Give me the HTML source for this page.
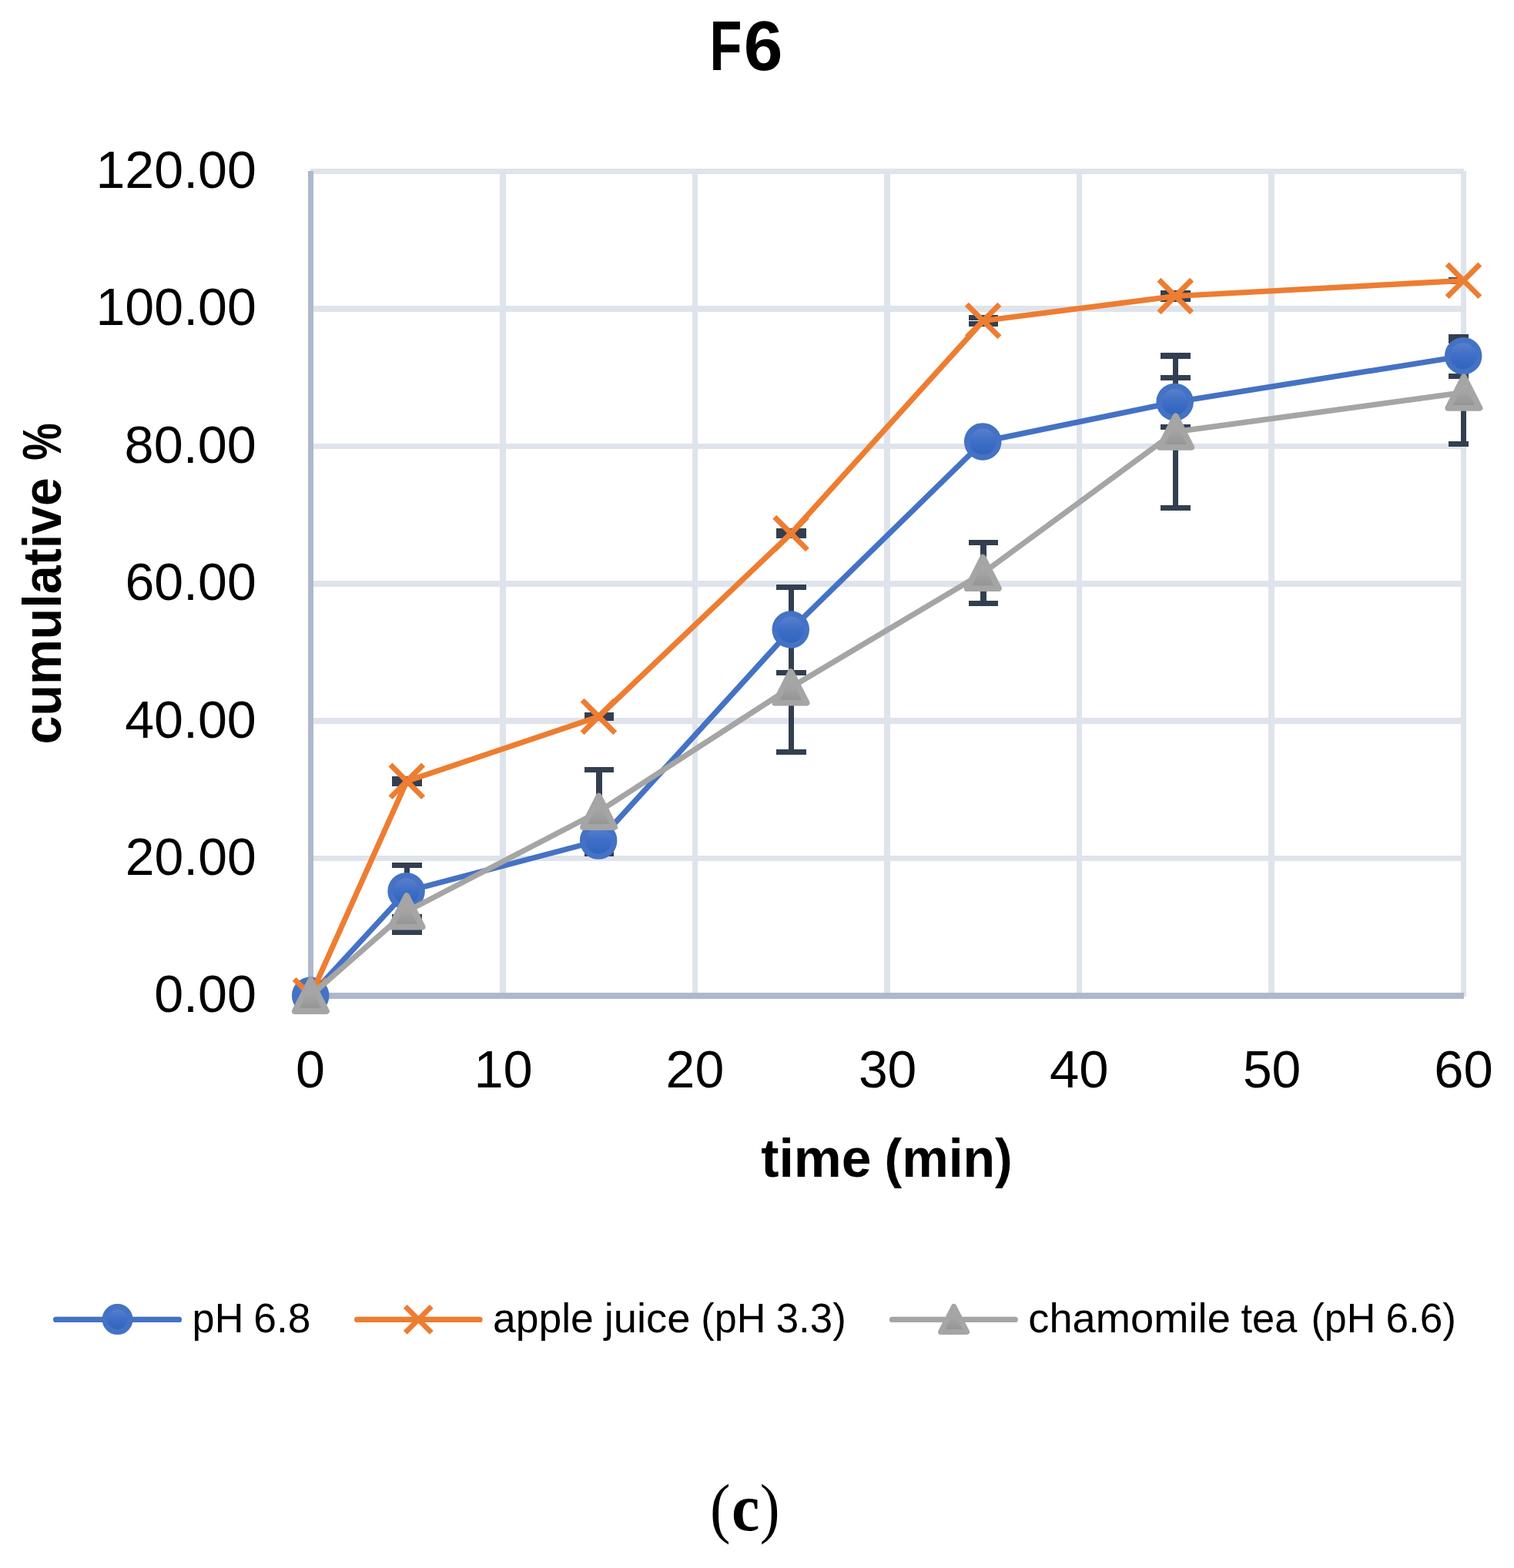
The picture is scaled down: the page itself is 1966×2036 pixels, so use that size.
<!DOCTYPE html>
<html lang="en"><head><meta charset="utf-8"><title>F6</title>
<style>html,body{margin:0;padding:0;background:#ffffff;}body{width:1966px;height:2036px;overflow:hidden;}svg{display:block;}</style>
</head><body>
<svg width="1966" height="2036" viewBox="0 0 1966 2036">
<defs>
<linearGradient id="gb" x1="0" y1="0" x2="0" y2="1"><stop offset="0" stop-color="#6083cb"/><stop offset="0.5" stop-color="#3e6ec7"/><stop offset="1" stop-color="#2f62bd"/></linearGradient>
<linearGradient id="gg" x1="0" y1="0" x2="0" y2="1"><stop offset="0" stop-color="#afafaf"/><stop offset="0.5" stop-color="#a3a3a3"/><stop offset="1" stop-color="#929292"/></linearGradient>
</defs>
<rect width="1966" height="2036" fill="#ffffff"/>
<path d="M403 219H1901V226H403ZM403 397H1901V405H403ZM403 576H1901V583H403ZM403 754H1901V762H403ZM403 932H1901V940H403ZM403 1111H1901V1118H403ZM649 222H657V1294H649ZM899 222H906V1294H899ZM1148 222H1156V1294H1148ZM1398 222H1405V1294H1398ZM1647 222H1655V1294H1647ZM1897 222H1904V1294H1897Z" fill="#dfe3eb"/>
<path d="M400 222H407V1293H400ZM403 1289H1901V1297H403Z" fill="#adb9ca"/>
<path d="M509 1008H548V1021H509ZM509 1120H548V1127H509ZM509 1187H548V1194H509ZM509 1207H548V1214H509ZM759 925H797V936H759ZM759 996H797V1003H759ZM759 1105H797V1112H759ZM1008 686H1047V699H1008ZM1008 759H1047V766H1008ZM1008 870H1047V877H1008ZM1008 973H1047V980H1008ZM1258 409H1296V416H1258ZM1258 417H1296V424H1258ZM1258 701H1296V708H1258ZM1258 780H1296V787H1258ZM1507 377H1546V392H1507ZM1507 458H1546V466H1507ZM1507 487H1546V494H1507ZM1507 551H1546V558H1507ZM1507 656H1546V663H1507ZM1881 360H1904V369H1881ZM1881 434H1907V441H1881ZM1881 439H1907V446H1881ZM1881 485H1907V492H1881ZM1881 573H1907V580H1881ZM525 1008H532V1021H525ZM525 1120H532V1214H525ZM774 925H782V936H774ZM774 996H782V1112H774ZM1024 686H1031V699H1024ZM1024 759H1031V980H1024ZM1273 409H1281V424H1273ZM1273 701H1281V787H1273ZM1523 377H1530V392H1523ZM1523 458H1530V663H1523ZM1897 360H1904V369H1897ZM1897 434H1904V580H1897Z" fill="#333f50"/>
<polyline points="403.50,1292.70 528.25,1157.20 777.75,1091.50 1027.25,817.50 1276.75,573.40 1526.25,522.00 1900.50,462.20" fill="none" stroke="#4472c4" stroke-width="7.2" stroke-linejoin="round" stroke-linecap="round"/>
<circle cx="403.20" cy="1292.70" r="20.60" fill="url(#gb)" stroke="#4472c4" stroke-width="7.3"/>
<circle cx="527.60" cy="1157.20" r="20.60" fill="url(#gb)" stroke="#4472c4" stroke-width="7.3"/>
<circle cx="777.15" cy="1091.50" r="20.60" fill="url(#gb)" stroke="#4472c4" stroke-width="7.3"/>
<circle cx="1026.75" cy="817.50" r="20.60" fill="url(#gb)" stroke="#4472c4" stroke-width="7.3"/>
<circle cx="1276.20" cy="573.40" r="20.60" fill="url(#gb)" stroke="#4472c4" stroke-width="7.3"/>
<circle cx="1525.65" cy="522.00" r="20.60" fill="url(#gb)" stroke="#4472c4" stroke-width="7.3"/>
<circle cx="1900.15" cy="462.20" r="20.60" fill="url(#gb)" stroke="#4472c4" stroke-width="7.3"/>
<polyline points="403.50,1292.70 528.25,1014.30 777.75,930.40 1027.25,692.60 1276.75,416.50 1526.25,384.50 1900.50,364.30" fill="none" stroke="#ed7d31" stroke-width="7.2" stroke-linejoin="round" stroke-linecap="round"/>
<path d="M382.20 1271.40L424.80 1314.00M382.20 1314.00L424.80 1271.40" fill="none" stroke="#ed7d31" stroke-width="7.0" stroke-linecap="butt"/>
<path d="M507.00 993.00L549.60 1035.60M507.00 1035.60L549.60 993.00" fill="none" stroke="#ed7d31" stroke-width="7.0" stroke-linecap="butt"/>
<path d="M756.10 909.10L798.70 951.70M756.10 951.70L798.70 909.10" fill="none" stroke="#ed7d31" stroke-width="7.0" stroke-linecap="butt"/>
<path d="M1005.80 671.30L1048.40 713.90M1005.80 713.90L1048.40 671.30" fill="none" stroke="#ed7d31" stroke-width="7.0" stroke-linecap="butt"/>
<path d="M1255.30 395.20L1297.90 437.80M1255.30 437.80L1297.90 395.20" fill="none" stroke="#ed7d31" stroke-width="7.0" stroke-linecap="butt"/>
<path d="M1505.00 363.20L1547.60 405.80M1505.00 405.80L1547.60 363.20" fill="none" stroke="#ed7d31" stroke-width="7.0" stroke-linecap="butt"/>
<path d="M1879.20 343.00L1921.80 385.60M1879.20 385.60L1921.80 343.00" fill="none" stroke="#ed7d31" stroke-width="7.0" stroke-linecap="butt"/>
<polyline points="403.50,1292.70 528.25,1183.40 777.75,1053.80 1027.25,892.40 1276.75,743.90 1526.25,560.60 1900.50,509.60" fill="none" stroke="#a5a5a5" stroke-width="7.2" stroke-linejoin="round" stroke-linecap="round"/>
<path d="M403.40 1272.45L423.95 1312.95L382.85 1312.95Z" fill="url(#gg)" stroke="#a5a5a5" stroke-width="7.9" stroke-linejoin="round"/>
<path d="M528.00 1163.15L548.55 1203.65L507.45 1203.65Z" fill="url(#gg)" stroke="#a5a5a5" stroke-width="7.9" stroke-linejoin="round"/>
<path d="M777.60 1033.55L798.15 1074.05L757.05 1074.05Z" fill="url(#gg)" stroke="#a5a5a5" stroke-width="7.9" stroke-linejoin="round"/>
<path d="M1027.00 872.15L1047.55 912.65L1006.45 912.65Z" fill="url(#gg)" stroke="#a5a5a5" stroke-width="7.9" stroke-linejoin="round"/>
<path d="M1276.30 723.65L1296.85 764.15L1255.75 764.15Z" fill="url(#gg)" stroke="#a5a5a5" stroke-width="7.9" stroke-linejoin="round"/>
<path d="M1526.60 540.35L1547.15 580.85L1506.05 580.85Z" fill="url(#gg)" stroke="#a5a5a5" stroke-width="7.9" stroke-linejoin="round"/>
<path d="M1900.90 489.35L1921.45 529.85L1880.35 529.85Z" fill="url(#gg)" stroke="#a5a5a5" stroke-width="7.9" stroke-linejoin="round"/>
<path d="M72.60 1713.4H232.50" fill="none" stroke="#4472c4" stroke-width="7.3" stroke-linecap="round"/>
<circle cx="152.60" cy="1713.10" r="16.50" fill="url(#gb)" stroke="#4472c4" stroke-width="7.0"/>
<path d="M463.70 1713.4H623.00" fill="none" stroke="#ed7d31" stroke-width="7.3" stroke-linecap="round"/>
<path d="M526.30 1696.40L560.30 1730.40M526.30 1730.40L560.30 1696.40" fill="none" stroke="#ed7d31" stroke-width="6.8" stroke-linecap="butt"/>
<path d="M1158.50 1713.4H1318.30" fill="none" stroke="#a5a5a5" stroke-width="7.3" stroke-linecap="round"/>
<path d="M1238.60 1696.40L1255.60 1729.40L1221.60 1729.40Z" fill="url(#gg)" stroke="#a5a5a5" stroke-width="7.0" stroke-linejoin="round"/>
<text aria-label="F6" transform="translate(0 91.08)" font-family="'Liberation Sans', Arial, Helvetica, sans-serif" font-weight="bold" font-size="91.55" fill="#000"><tspan x="921.54" textLength="41.92" lengthAdjust="spacingAndGlyphs">F</tspan><tspan x="965.81" textLength="50.69" lengthAdjust="spacingAndGlyphs">6</tspan></text>
<text aria-label="120.00" transform="translate(0 244.11)" font-family="'Liberation Sans', Arial, Helvetica, sans-serif" font-weight="normal" font-size="68.73" fill="#000"><tspan x="124.49" textLength="208.34" lengthAdjust="spacingAndGlyphs">120.00</tspan></text>
<text aria-label="100.00" transform="translate(0 422.31)" font-family="'Liberation Sans', Arial, Helvetica, sans-serif" font-weight="normal" font-size="68.73" fill="#000"><tspan x="124.49" textLength="208.34" lengthAdjust="spacingAndGlyphs">100.00</tspan></text>
<text aria-label="80.00" transform="translate(0 600.91)" font-family="'Liberation Sans', Arial, Helvetica, sans-serif" font-weight="normal" font-size="68.73" fill="#000"><tspan x="161.62" textLength="171.14" lengthAdjust="spacingAndGlyphs">80.00</tspan></text>
<text aria-label="60.00" transform="translate(0 779.21)" font-family="'Liberation Sans', Arial, Helvetica, sans-serif" font-weight="normal" font-size="68.73" fill="#000"><tspan x="162.40" textLength="170.36" lengthAdjust="spacingAndGlyphs">60.00</tspan></text>
<text aria-label="40.00" transform="translate(0 958.01)" font-family="'Liberation Sans', Arial, Helvetica, sans-serif" font-weight="normal" font-size="68.73" fill="#000"><tspan x="162.20" textLength="170.56" lengthAdjust="spacingAndGlyphs">40.00</tspan></text>
<text aria-label="20.00" transform="translate(0 1135.81)" font-family="'Liberation Sans', Arial, Helvetica, sans-serif" font-weight="normal" font-size="68.73" fill="#000"><tspan x="162.80" textLength="169.94" lengthAdjust="spacingAndGlyphs">20.00</tspan></text>
<text aria-label="0.00" transform="translate(0 1314.21)" font-family="'Liberation Sans', Arial, Helvetica, sans-serif" font-weight="normal" font-size="68.73" fill="#000"><tspan x="200.17" textLength="132.85" lengthAdjust="spacingAndGlyphs">0.00</tspan></text>
<text aria-label="0" transform="translate(0 1412.11)" font-family="'Liberation Sans', Arial, Helvetica, sans-serif" font-weight="normal" font-size="68.73" fill="#000"><tspan x="383.97" textLength="37.94" lengthAdjust="spacingAndGlyphs">0</tspan></text>
<text aria-label="10" transform="translate(0 1412.11)" font-family="'Liberation Sans', Arial, Helvetica, sans-serif" font-weight="normal" font-size="68.73" fill="#000"><tspan x="615.46" textLength="76.31" lengthAdjust="spacingAndGlyphs">10</tspan></text>
<text aria-label="20" transform="translate(0 1412.11)" font-family="'Liberation Sans', Arial, Helvetica, sans-serif" font-weight="normal" font-size="68.73" fill="#000"><tspan x="864.60" textLength="75.64" lengthAdjust="spacingAndGlyphs">20</tspan></text>
<text aria-label="30" transform="translate(0 1412.11)" font-family="'Liberation Sans', Arial, Helvetica, sans-serif" font-weight="normal" font-size="68.73" fill="#000"><tspan x="1114.89" textLength="75.45" lengthAdjust="spacingAndGlyphs">30</tspan></text>
<text aria-label="40" transform="translate(0 1412.11)" font-family="'Liberation Sans', Arial, Helvetica, sans-serif" font-weight="normal" font-size="68.73" fill="#000"><tspan x="1363.08" textLength="76.59" lengthAdjust="spacingAndGlyphs">40</tspan></text>
<text aria-label="50" transform="translate(0 1412.11)" font-family="'Liberation Sans', Arial, Helvetica, sans-serif" font-weight="normal" font-size="68.73" fill="#000"><tspan x="1613.89" textLength="75.45" lengthAdjust="spacingAndGlyphs">50</tspan></text>
<text aria-label="60" transform="translate(0 1412.11)" font-family="'Liberation Sans', Arial, Helvetica, sans-serif" font-weight="normal" font-size="68.73" fill="#000"><tspan x="1862.36" textLength="76.51" lengthAdjust="spacingAndGlyphs">60</tspan></text>
<text aria-label="cumulative %" transform="translate(79.39 0) rotate(-90)" font-family="'Liberation Sans', Arial, Helvetica, sans-serif" font-weight="bold" font-size="70.61" fill="#000"><tspan x="-966.45" textLength="346.31" lengthAdjust="spacingAndGlyphs">cumulative</tspan> <tspan x="-597.76" textLength="48.48" lengthAdjust="spacingAndGlyphs">%</tspan></text>
<text aria-label="time (min)" transform="translate(0 1528.20)" font-family="'Liberation Sans', Arial, Helvetica, sans-serif" font-weight="bold" font-size="69.80" fill="#000"><tspan x="988.30" textLength="143.22" lengthAdjust="spacingAndGlyphs">time</tspan> <tspan x="1148.50" textLength="166.23" lengthAdjust="spacingAndGlyphs">(min)</tspan></text>
<text aria-label="pH 6.8" transform="translate(0 1729.90)" font-family="'Liberation Sans', Arial, Helvetica, sans-serif" font-weight="normal" font-size="53.80" fill="#000"><tspan x="249.61" textLength="66.75" lengthAdjust="spacingAndGlyphs">pH</tspan> <tspan x="329.23" textLength="74.18" lengthAdjust="spacingAndGlyphs">6.8</tspan></text>
<text aria-label="apple juice (pH 3.3)" transform="translate(0 1729.90)" font-family="'Liberation Sans', Arial, Helvetica, sans-serif" font-weight="normal" font-size="54.40" fill="#000"><tspan x="639.99" textLength="130.84" lengthAdjust="spacingAndGlyphs">apple</tspan> <tspan x="784.76" textLength="111.78" lengthAdjust="spacingAndGlyphs">juice</tspan> <tspan x="910.37" textLength="84.07" lengthAdjust="spacingAndGlyphs">(pH</tspan> <tspan x="1007.69" textLength="91.05" lengthAdjust="spacingAndGlyphs">3.3)</tspan></text>
<text aria-label="chamomile tea (pH 6.6)" transform="translate(0 1729.90)" font-family="'Liberation Sans', Arial, Helvetica, sans-serif" font-weight="normal" font-size="54.40" fill="#000"><tspan x="1335.26" textLength="262.59" lengthAdjust="spacingAndGlyphs">chamomile</tspan> <tspan x="1611.51" textLength="72.89" lengthAdjust="spacingAndGlyphs">tea</tspan> <tspan x="1702.38" textLength="83.85" lengthAdjust="spacingAndGlyphs">(pH</tspan> <tspan x="1799.44" textLength="91.62" lengthAdjust="spacingAndGlyphs">6.6)</tspan></text>
<text aria-label="(c)" transform="translate(0 1987.00)" font-family="'Liberation Serif', 'Times New Roman', serif" font-weight="normal" font-size="87.20" fill="#000"><tspan x="922.12" textLength="26.51" lengthAdjust="spacingAndGlyphs">(</tspan><tspan x="950.04" textLength="36.32" lengthAdjust="spacingAndGlyphs" font-weight="bold">c</tspan><tspan x="986.68" textLength="25.75" lengthAdjust="spacingAndGlyphs">)</tspan></text>
</svg>
</body></html>
